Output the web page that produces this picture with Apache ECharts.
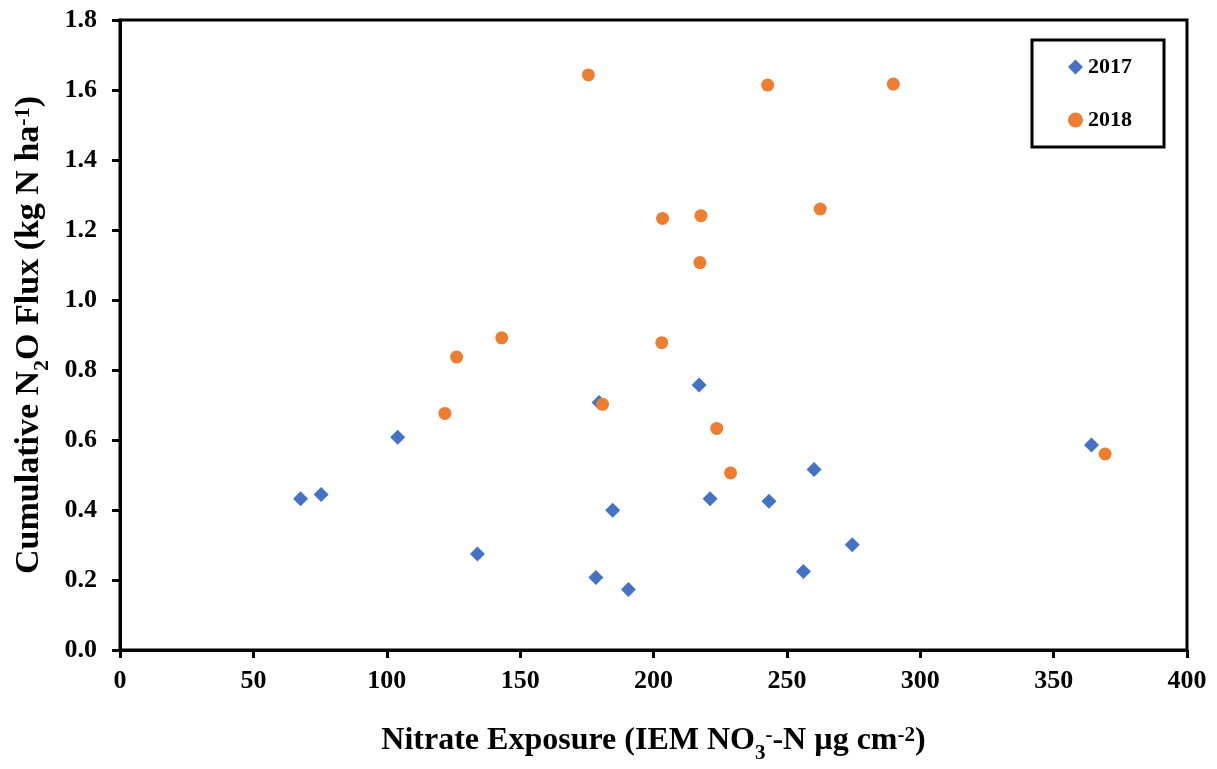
<!DOCTYPE html>
<html>
<head>
<meta charset="utf-8">
<script src="https://cdn.jsdelivr.net/npm/echarts@6/dist/echarts.min.js"></script>
<style>html,body{margin:0;padding:0;background:#fff}#c{width:1217px;height:769px}</style>
</head>
<body>
<div id="c"></div>
<script>
// 2017 series: [nitrate exposure, cumulative N2O flux]
const x2017 = [67.7, 75.4, 104.1, 134.0, 178.4, 179.6, 184.7, 190.6, 217.1, 221.2, 243.3, 256.2, 260.2, 274.5, 364.2];
const y2017 = [0.432, 0.444, 0.608, 0.274, 0.207, 0.707, 0.399, 0.173, 0.757, 0.432, 0.425, 0.224, 0.516, 0.301, 0.586];
// 2018 series
const x2018 = [175.6, 242.8, 289.9, 203.4, 217.8, 262.5, 217.4, 143.1, 126.2, 203.1, 121.8, 180.9, 223.7, 228.9, 369.3];
const y2018 = [1.643, 1.614, 1.617, 1.233, 1.241, 1.260, 1.107, 0.892, 0.837, 0.878, 0.676, 0.702, 0.633, 0.506, 0.560];
const seriesNames = ['2017', '2018'];

const pts = (xs, ys) => xs.map((v, i) => [v, ys[i]]);
const FONT = '"Liberation Serif", "Times New Roman", serif';

function richSet(size) {
  const s = Math.round(size * 0.65);
  return {
    m: {fontSize: size, fontWeight: 'bold', fontFamily: FONT, color: '#000', lineHeight: size + 4, verticalAlign: 'top'},
    s: {fontSize: s, fontWeight: 'bold', fontFamily: FONT, color: '#000', lineHeight: s, padding: [Math.round(size * 0.55), 0, 0, 0], verticalAlign: 'top'},
    p: {fontSize: s, fontWeight: 'bold', fontFamily: FONT, color: '#000', lineHeight: s, padding: [0, 0, 0, 0], verticalAlign: 'top'}
  };
}

const chart = echarts.init(document.getElementById('c'), null, {renderer: 'canvas'});

chart.setOption({
  animation: false,
  backgroundColor: '#fff',
  grid: {left: 120, right: 30, top: 20, bottom: 117, show: true, borderColor: '#000', borderWidth: 3, backgroundColor: 'transparent'},
  legend: {
    orient: 'vertical', left: 1032, top: 40,
    data: [{name: seriesNames[0], icon: 'diamond'}, {name: seriesNames[1], icon: 'circle'}],
    itemWidth: 15, itemHeight: 15, itemGap: 31,
    padding: [16, 32, 16, 36],
    borderColor: '#000', borderWidth: 3, backgroundColor: '#fff',
    textStyle: {fontFamily: FONT, fontWeight: 'bold', fontSize: 22, color: '#000'}
  },
  xAxis: {
    type: 'value', min: 0, max: 400, interval: 50,
    axisLine: {show: true, lineStyle: {color: '#000', width: 3}},
    axisTick: {show: true, inside: false, length: 8, lineStyle: {color: '#000', width: 3}},
    splitLine: {show: false},
    axisLabel: {fontFamily: FONT, fontWeight: 'bold', fontSize: 26, color: '#000', margin: 18},
    name: '{m|Nitrate Exposure (IEM NO}{s|3}{p|-}{m|-N µg cm}{p|-2}{m|)}',
    nameLocation: 'middle', nameGap: 75,
    nameTextStyle: {rich: richSet(32)}
  },
  yAxis: {
    type: 'value', min: 0, max: 1.8, interval: 0.2,
    axisLine: {show: true, lineStyle: {color: '#000', width: 3}},
    axisTick: {show: true, inside: false, length: 8, lineStyle: {color: '#000', width: 3}},
    splitLine: {show: false},
    axisLabel: {fontFamily: FONT, fontWeight: 'bold', fontSize: 26, color: '#000', margin: 23, formatter: v => v.toFixed(1)},
    name: '{m|Cumulative N}{s|2}{m|O Flux (kg N ha}{p|-1}{m|)}',
    nameLocation: 'middle', nameGap: 68,
    nameTextStyle: {rich: richSet(34)}
  },
  series: [
    {name: seriesNames[0], type: 'scatter', symbol: 'diamond', symbolSize: 15,
     itemStyle: {color: '#4472C4', opacity: 1}, data: pts(x2017, y2017)},
    {name: seriesNames[1], type: 'scatter', symbol: 'circle', symbolSize: 13,
     itemStyle: {color: '#ED7D31', opacity: 1}, data: pts(x2018, y2018)}
  ]
});
</script>
</body>
</html>
